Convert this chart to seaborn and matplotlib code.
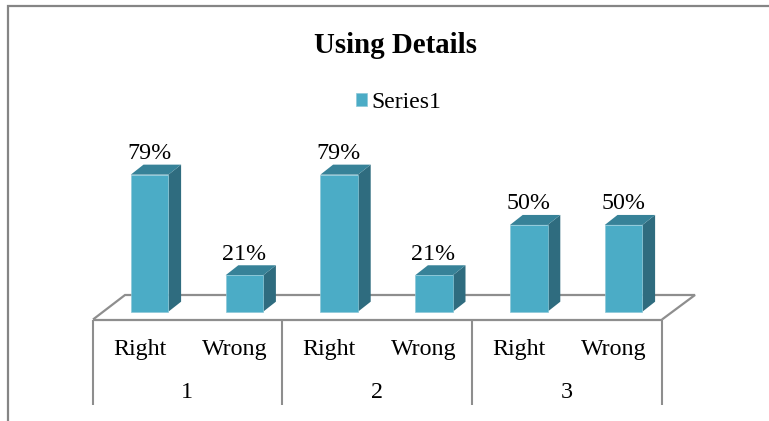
import matplotlib
matplotlib.use("Agg")
import matplotlib.pyplot as plt
from matplotlib.patches import Polygon
import pandas as pd
import seaborn as sns

# Chart content
title = "Using Details"
series_name = "Series1"
groups = ["1", "2", "3"]
answers = ["Right", "Wrong"]
values = [79, 21, 79, 21, 50, 50]

# Colours
FRONT = "#4BACC6"
SIDE = "#2F6C7F"
TOP = "#378298"
AXIS = "#8E8E8E"
FRAME = "#858585"

W, H = 769, 421
BAR_STEP = 94.8     # pixels between neighbouring bars
UNIT = 1.735        # pixels per percentage point
BASE_Y = 311.7      # pixel row of the bar baseline
FIRST_X = 149.6     # pixel column of the first bar centre
BAR_W = 37.6
DEPTH_X, DEPTH_Y = 12.7, 10.0


def X(px):
    return (px - FIRST_X) / BAR_STEP


def Y(py):
    return (BASE_Y - py) / UNIT


sns.set_theme(style="white")
plt.rcParams["font.family"] = ["Liberation Serif", "DejaVu Serif"]

fig = plt.figure(figsize=(W / 100, H / 100), dpi=100, facecolor="white")
ax = fig.add_axes([0, 0, 1, 1])

labels = [f"{g} {a}" for g in groups for a in answers]
df = pd.DataFrame({"bar": labels, "value": values})
sns.barplot(
    data=df, x="bar", y="value", ax=ax, color=FRONT, saturation=1,
    width=BAR_W / BAR_STEP, label=series_name, zorder=3, errorbar=None,
    edgecolor="#8CC8D8", linewidth=0.5,
)

ax.set_xlim(X(0), X(W))
ax.set_ylim(Y(H), Y(0))
ax.set_axis_off()


def line(xs, ys, color=AXIS, lw=1.5, z=1):
    ax.plot([X(v) for v in xs], [Y(v) for v in ys], color=color, lw=lw,
            zorder=z, solid_capstyle="butt", solid_joinstyle="miter")


# Outer chart frame: top and left sides only
line([8, 8, W], [H, 6, 6], color=FRAME, lw=1.6)

# Floor parallelogram
line([93, 125, 695, 662], [319.5, 295, 295, 319.5], lw=1.6)
line([93, 662], [319.5, 319.5], lw=1.6, z=4)

# Category dividers below the floor
for px in [93, 282, 472, 662]:
    line([px, px], [319.5, 405], lw=1.5)

# Depth faces of each bar, and value labels
for i, v in enumerate(values):
    left = FIRST_X + i * BAR_STEP - BAR_W / 2
    right = left + BAR_W
    top = BASE_Y - v * UNIT
    side = [(right, BASE_Y), (right + DEPTH_X, BASE_Y - DEPTH_Y),
            (right + DEPTH_X, top - DEPTH_Y), (right, top)]
    cap = [(left, top), (left + DEPTH_X, top - DEPTH_Y),
           (right + DEPTH_X, top - DEPTH_Y), (right, top)]
    ax.add_patch(Polygon([(X(a), Y(b)) for a, b in side], facecolor=SIDE,
                         edgecolor="none", zorder=2.5))
    ax.add_patch(Polygon([(X(a), Y(b)) for a, b in cap], facecolor=TOP,
                         edgecolor="none", zorder=2.5))
    ax.text(X(left + BAR_W / 2 - 0.5), Y(top - 15.5), f"{v}%", ha="center",
            va="baseline", fontsize=17.3, color="black", zorder=5)

# Two-level category labels
for i, lab in enumerate(answers * len(groups)):
    ax.text(X(FIRST_X + i * BAR_STEP - 10), Y(355), lab, ha="center",
            va="baseline", fontsize=17.3, color="black")
for g, px in zip(groups, [187, 377, 567]):
    ax.text(X(px), Y(398), g, ha="center", va="baseline", fontsize=17.3,
            color="black")

ax.text(X(395), Y(53), title, ha="center", va="baseline", fontsize=20.8,
        fontweight="bold", color="black")

ax.legend(
    loc="center left", bbox_to_anchor=(348.9 / W, 1 - 102.5 / H), frameon=False,
    fontsize=17, handlelength=0.47, handleheight=0.47, handletextpad=0.2,
    borderpad=0.3, borderaxespad=0, labelcolor="black",
)

fig.savefig("out.png", dpi=100, facecolor="white")
